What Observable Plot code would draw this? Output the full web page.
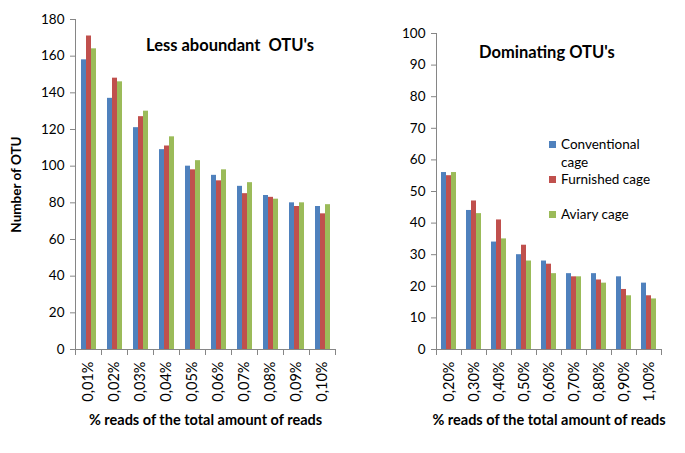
<!DOCTYPE html>
<html><head><meta charset="utf-8">
<script src="https://cdn.jsdelivr.net/npm/d3@7"></script>
<script src="https://cdn.jsdelivr.net/npm/@observablehq/plot@0.6"></script>
<style>
body{margin:0;background:#fff;font-family:Lato,"Liberation Sans",sans-serif;}
#wrap{position:relative;width:685px;height:453px;overflow:hidden;background:#fff;}
.panel{position:absolute;top:0;}
.title{position:absolute;font-weight:bold;font-size:16.5px;color:#000;white-space:pre;line-height:1;}
.legend{position:absolute;left:549px;top:136px;font-size:13.5px;color:#000;line-height:17.5px;}
.legend .item{position:relative;padding-left:12px;width:95px;}
.legend .sw{position:absolute;left:0;top:5px;width:7px;height:7px;}
</style></head>
<body><div id="wrap"></div>
<script>
const series = ["Conventional cage", "Furnished cage", "Aviary cage"];
const colors = ["#4F81BD", "#C0504D", "#9BBB59"];

const leftCategories = ["0,01%","0,02%","0,03%","0,04%","0,05%","0,06%","0,07%","0,08%","0,09%","0,10%"];
const leftConventional = [158,137,121,109,100,95,89,84,80,78];
const leftFurnished   = [171,148,127,111,98,92,85,83,78,74];
const leftAviary      = [164,146,130,116,103,98,91,82,80,79];
const leftTicks = [0,20,40,60,80,100,120,140,160,180];

const rightCategories = ["0,20%","0,30%","0,40%","0,50%","0,60%","0,70%","0,80%","0,90%","1,00%"];
const rightConventional = [56,44,34,30,28,24,24,23,21];
const rightFurnished    = [55,47,41,33,27,23,22,19,17];
const rightAviary       = [56,43,35,28,24,23,21,17,16];
const rightTicks = [0,10,20,30,40,50,60,70,80,90,100];

const xLabel = "% reads of the total amount of reads";

function tidy(cats, arrays) {
  return cats.flatMap((c, i) => series.map((s, j) => ({category: c, series: s, value: arrays[j][i]})));
}

const axisColor = "#868686";

function chart({data, cats, ticks, width, ml, mr, mt, mb, yLabel, yLabelOffset, xLabelDx}) {
  const H = 453;
  const innerH = H - mt - mb;
  const marks = [
    Plot.barY(data, {fx: "category", x: "series", y: "value", fill: "series"}),
    Plot.ruleY([0], {stroke: axisColor}),
    Plot.frame({anchor: "left", facetAnchor: "left", stroke: axisColor}),
    Plot.frame({anchor: "left", insetTop: innerH, insetBottom: -5, stroke: axisColor}),
    Plot.frame({anchor: "right", facetAnchor: "right", insetTop: innerH, insetBottom: -5, stroke: axisColor}),
    Plot.axisY({ticks, tickSize: 5, tickPadding: 6, stroke: axisColor, fill: "#000", label: null, fontSize: 13.5}),
    Plot.axisFx({anchor: "bottom", tickSize: 0, tickRotate: -90, tickPadding: 12, fontSize: 14.5, label: null}),
    Plot.axisFx({anchor: "bottom", tickSize: 0, tickFormat: () => "", label: xLabel, labelArrow: "none", labelAnchor: "center", labelOffset: 75, dx: xLabelDx, fontWeight: "bold", fontSize: 14.5})
  ];
  if (yLabel) marks.push(Plot.axisY({ticks: [], tickSize: 0, label: yLabel, labelArrow: "none", labelAnchor: "center", labelOffset: yLabelOffset, fontWeight: "bold", fontSize: 13.5}));
  return Plot.plot({
    width, height: H,
    marginLeft: ml, marginRight: mr, marginTop: mt, marginBottom: mb,
    style: {fontFamily: "Lato, 'Liberation Sans', sans-serif", fontSize: "13px", color: "#000", background: "transparent", overflow: "visible"},
    fx: {domain: cats, padding: 0},
    x: {domain: series, paddingInner: 0, paddingOuter: 0.72, axis: null},
    y: {domain: [ticks[0], ticks[ticks.length - 1]], axis: null},
    color: {domain: series, range: colors},
    marks
  });
}

const wrap = document.getElementById("wrap");

const left = chart({
  data: tidy(leftCategories, [leftConventional, leftFurnished, leftAviary]),
  cats: leftCategories, ticks: leftTicks,
  width: 350, ml: 71, mr: 12, mt: 19, mb: 104,
  yLabel: "Number of OTU", yLabelOffset: 64, xLabelDx: 0
});
left.classList.add("panel"); left.style.left = "0px";
wrap.appendChild(left);

const right = chart({
  data: tidy(rightCategories, [rightConventional, rightFurnished, rightAviary]),
  cats: rightCategories, ticks: rightTicks,
  width: 335, ml: 83, mr: 21, mt: 33, mb: 104, xLabelDx: 7
});
right.classList.add("panel"); right.style.left = "350px";
wrap.appendChild(right);

function addTitle(text, x, y) {
  const d = document.createElement("div");
  d.className = "title"; d.textContent = text;
  d.style.left = x + "px"; d.style.top = y + "px";
  wrap.appendChild(d);
}
addTitle("Less aboundant  OTU's", 146, 37);
addTitle("Dominating OTU's", 479, 44);

const leg = document.createElement("div");
leg.className = "legend";
const gaps = [0, 0, 17];
series.forEach((s, i) => {
  const it = document.createElement("div");
  it.className = "item";
  it.style.marginTop = gaps[i] + "px";
  const sw = document.createElement("span");
  sw.className = "sw"; sw.style.background = colors[i];
  it.appendChild(sw);
  it.appendChild(document.createTextNode(s));
  leg.appendChild(it);
});
wrap.appendChild(leg);
</script>
</body></html>
